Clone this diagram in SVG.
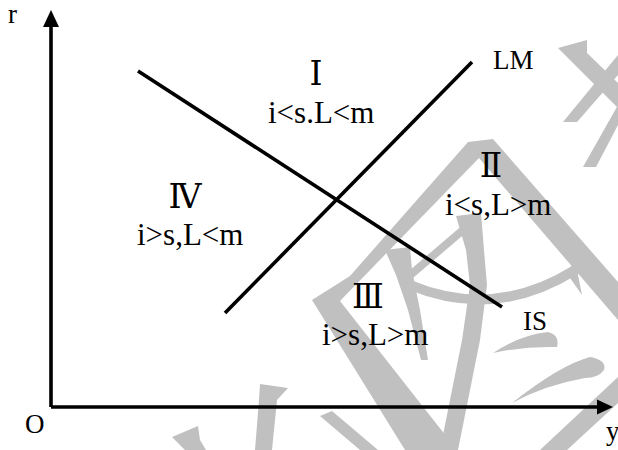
<svg xmlns="http://www.w3.org/2000/svg" width="618" height="450" viewBox="0 0 618 450">
<defs>
<style>
.wm{fill:#c0c0c0;stroke:none}
.wms{fill:none;stroke:#c0c0c0}
.ln{stroke:#000;stroke-width:3.6;fill:none}
.t{font-family:"Liberation Serif","Times New Roman",serif;font-size:31px;fill:#000}
.s{font-family:"Liberation Serif","Times New Roman",serif;font-size:27px;fill:#000}
.n{font-family:"DejaVu Serif","Liberation Serif",serif;font-size:33px;fill:#000;text-anchor:middle}
</style>
</defs>
<rect width="618" height="450" fill="#fff"/>
<g id="watermark">
<polygon class="wm" points="468,142 493,139 618,282 618,320 479,158 340,301 457,450 405,450 312,300 350,276"/>
<polygon class="wm" points="456,216 481,213 484,250 487,285 480,340 468,400 458,450 440,450 450,400 462,340 470,285 466,250"/>
<polygon class="wm" points="385,250 410,247 412,270 420,310 428,360 421,360 408,310 396,275"/>
<path class="wms" stroke-width="10" d="M410,285 Q495,320 575,270"/>
<polygon class="wm" points="572,262 581,258 578,275 582,295 570,278"/>
<path class="wms" stroke-width="8" d="M408,277 L463,230"/>
<path class="wm" d="M493,353 Q520,335 548,332 Q560,335 557,347 Q525,346 493,353 Z"/>
<path class="wm" d="M512,403 Q560,365 590,357 Q607,360 604,370 Q598,378 585,378 Q545,385 512,403 Z"/>
<polygon class="wm" points="618,377 618,403 567,450 540,450"/>
<polygon class="wm" points="320,416 332,411 378,450 360,450"/>
<polygon class="wm" points="260,384 288,388 277,400 272,450 255,450 259,400"/>
<polygon class="wm" points="172,437 198,426 200,440 206,450 185,450"/>
<polygon class="wm" points="558,48 587,40 587,53 618,83 618,108"/>
<polygon class="wm" points="618,55 618,75 577,122 563,122"/>
<polygon class="wm" points="618,105 618,125 596,167 583,167"/>
</g>
<g id="connectors">
<line id="y-axis" class="ln" x1="51" y1="407" x2="51" y2="24"/>
<polygon points="51,10 43,27 59,27" fill="#000"/>
<line id="x-axis" class="ln" x1="51" y1="407" x2="599" y2="407"/>
<polygon points="613,407 597,399.5 597,414.5" fill="#000"/>
<line id="IS-curve" class="ln" x1="138" y1="71" x2="502" y2="307"/>
<line id="LM-curve" class="ln" x1="225" y1="313" x2="472" y2="62"/>
</g>
<g id="axis-labels">
<text class="s" x="8" y="23" font-size="26">r</text>
<text class="s" x="25" y="433">O</text>
<text class="s" x="606" y="440">y</text>
</g>
<g id="curve-labels">
<text class="s" x="493" y="69">LM</text>
<text class="s" x="523" y="330">IS</text>
</g>
<g id="region-I">
<text class="n" x="316" y="85">Ⅰ</text>
<text class="t" x="268" y="123">i&lt;s.L&lt;m</text>
</g>
<g id="region-II">
<text class="n" x="491" y="177">Ⅱ</text>
<text class="t" x="445" y="215">i&lt;s,L&gt;m</text>
</g>
<g id="region-III">
<text class="n" x="368" y="308">Ⅲ</text>
<text class="t" x="322" y="345">i&gt;s,L&gt;m</text>
</g>
<g id="region-IV">
<text class="n" x="185" y="208">Ⅳ</text>
<text class="t" x="137" y="245">i&gt;s,L&lt;m</text>
</g>
</svg>
